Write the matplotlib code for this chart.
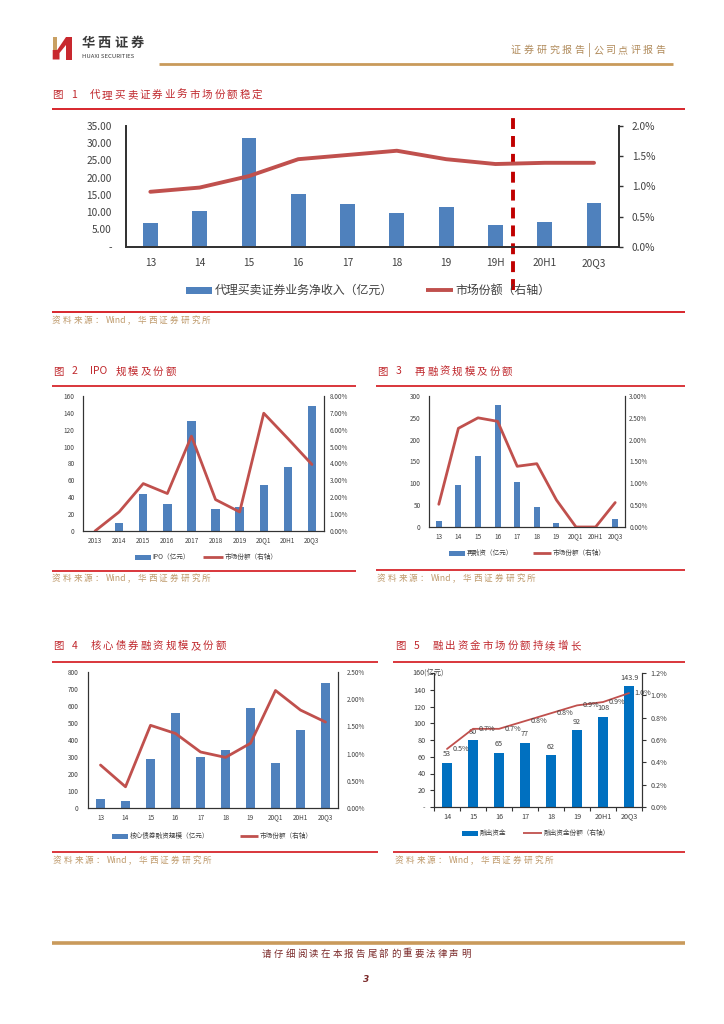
import matplotlib
matplotlib.use('Agg')
import matplotlib.pyplot as plt
from matplotlib.patches import Rectangle, Polygon
from matplotlib.lines import Line2D
import numpy as np

plt.rcParams['font.family'] = ['Noto Sans CJK SC', 'DejaVu Sans']

W, H = 724, 1024

# ---- data ----
cats1 = ['13', '14', '15', '16', '17', '18', '19', '19H', '20H1', '20Q3']
income1 = [6.96, 10.35, 31.4, 15.2, 12.4, 9.86, 11.5, 6.2, 7.16, 12.6]
share1 = [0.91, 0.98, 1.17, 1.45, 1.52, 1.59, 1.45, 1.37, 1.39, 1.39]

cats2 = ['2013', '2014', '2015', '2016', '2017', '2018', '2019', '20Q1', '20H1', '20Q3']
ipo2 = [0, 9, 44, 32.5, 130, 25.7, 28, 55, 75.6, 148]
share2 = [0.0, 1.13, 2.81, 2.22, 5.62, 1.86, 1.13, 6.98, 5.48, 3.94]

cats3 = ['13', '14', '15', '16', '17', '18', '19', '20Q1', '20H1', '20Q3']
refin3 = [14, 96, 163, 280, 103, 46, 10, 0, 0, 19]
share3 = [0.52, 2.26, 2.50, 2.42, 1.39, 1.45, 0.62, 0.0, 0.0, 0.56]

cats4 = ['13', '14', '15', '16', '17', '18', '19', '20Q1', '20H1', '20Q3']
bond4 = [55, 43, 290, 561, 302, 343, 590, 267, 461, 737]
share4 = [0.79, 0.39, 1.52, 1.37, 1.03, 0.93, 1.19, 2.16, 1.80, 1.58]

cats5 = ['14', '15', '16', '17', '18', '19', '20H1', '20Q3']
lend5 = [53, 80, 65, 77, 62, 92, 108, 143.9]
share5 = [0.52, 0.70, 0.70, 0.77, 0.84, 0.91, 0.94, 1.02]
barlab5 = ['53', '80', '65', '77', '62', '92', '108', '143.9']
linelab5 = ['0.5%', '0.7%', '0.7%', '0.8%', '0.8%', '0.9%', '0.9%', '1.0%']

BLUE = '#4F81BD'
BLUE5 = '#0070C0'
RED_LINE = '#C0504D'
RED = '#D7262C'
TITLE_RED = '#C0282D'
TAN = '#BF9A6C'
GOLD = '#C99A5B'

fig = plt.figure(figsize=(W / 100, H / 100), dpi=100)


def fx(x):
    return x / W


def fy(y):
    return 1 - y / H


def rect(l, t, r, b):
    return [fx(l), fy(b), (r - l) / W, (b - t) / H]


def hline(x0, x1, y, color, lw):
    fig.add_artist(Line2D([fx(x0), fx(x1)], [fy(y), fy(y)], transform=fig.transFigure,
                          color=color, lw=lw, solid_capstyle='butt'))


def spaced(x, y, s, size, color, pitch, weight='normal'):
    # CJK glyphs on a fixed pitch, runs of latin characters drawn as one piece
    cx = x
    run = ''
    for ch in s + '\0':
        if ch != '\0' and ord(ch) < 0x2000 and ch != ' ':
            run += ch
            continue
        if run:
            fig.text(fx(cx), fy(y), run, fontsize=size, color=color, va='center',
                     ha='left', fontweight=weight)
            cx += pitch * 0.5 * len(run)
            run = ''
        if ch == '\0':
            break
        if ch == ' ':
            cx += pitch * 0.5
            continue
        fig.text(fx(cx), fy(y), ch, fontsize=size, color=color, va='center',
                 ha='left', fontweight=weight)
        cx += pitch


def legend(xb, xl, y, lab_b, lab_l, color_b, lw_l, fs, pw, ph, lwid, gap):
    fig.add_artist(Rectangle((fx(xb), fy(y + ph / 2)), pw / W, ph / H,
                             transform=fig.transFigure, color=color_b, lw=0))
    fig.text(fx(xb + pw + gap), fy(y), lab_b, fontsize=fs, color='#404040', va='center')
    fig.add_artist(Line2D([fx(xl), fx(xl + lwid)], [fy(y), fy(y)], transform=fig.transFigure,
                          color=RED_LINE, lw=lw_l, solid_capstyle='butt'))
    fig.text(fx(xl + lwid + gap), fy(y), lab_l, fontsize=fs, color='#404040', va='center')


def combo(box, cats, bars, line, bcolor, bw, lw, ylim, yticks, ylabels,
          y2lim, y2ticks, y2labels, fs, padl, padr, padb, spw=0.8):
    ax = fig.add_axes(rect(*box))
    x = np.arange(len(cats))
    ax.bar(x, bars, bw, color=bcolor, zorder=2)
    ax.set_xlim(-0.5, len(cats) - 0.5)
    ax.set_ylim(*ylim)
    ax.set_yticks(yticks)
    ax.set_yticklabels(ylabels)
    ax.set_xticks(x)
    ax.set_xticklabels(cats)
    ax2 = ax.twinx()
    ax2.plot(x, line, color=RED_LINE, lw=lw, solid_capstyle='round', solid_joinstyle='round')
    ax2.set_ylim(*y2lim)
    ax2.set_yticks(y2ticks)
    ax2.set_yticklabels(y2labels)
    for a in (ax, ax2):
        a.spines['top'].set_visible(False)
        for s in ('left', 'right', 'bottom'):
            a.spines[s].set_color('#333333')
            a.spines[s].set_linewidth(spw)
        a.patch.set_visible(False)
    ax.tick_params(axis='y', length=0, pad=padl, labelsize=fs, labelcolor='#404040')
    ax.tick_params(axis='x', length=0, pad=padb, labelsize=fs, labelcolor='#404040')
    ax2.tick_params(axis='y', length=0, pad=padr, labelsize=fs, labelcolor='#404040')
    return ax, ax2


# ---- header ----
fig.add_artist(Rectangle((fx(52.7), fy(50)), 4.5 / W, 13 / H, transform=fig.transFigure,
                         color='#C9A063', lw=0))
fig.add_artist(Polygon([[fx(52.7), fy(59.5)], [fx(52.7), fy(50)], [fx(57.2), fy(50)],
                        [fx(66), fy(37)], [fx(66), fy(45)], [fx(59.5), fy(53)],
                        [fx(59.5), fy(59.5)]], closed=True, transform=fig.transFigure,
                       color='#C8282E', lw=0))
fig.add_artist(Rectangle((fx(66), fy(59.5)), 6 / W, 22.5 / H, transform=fig.transFigure,
                         color='#C8282E', lw=0))
spaced(81.5, 42.5, '华西证券', 9.5, '#3a3a3a', 16.3, weight='bold')
fig.text(fx(82), fy(56), 'HUAXI SECURITIES', fontsize=4.3, color='#3a3a3a', va='center')
spaced(511, 50, '证券研究报告', 7.2, '#B08A5A', 12.7)
fig.text(fx(588), fy(50), '|', fontsize=9, color='#B08A5A', va='center')
spaced(593, 50, '公司点评报告', 7.2, '#B08A5A', 12.4)
hline(159, 673, 64.3, GOLD, 2.0)

# ---- figure 1 ----
spaced(52, 95, '图 1  代理买卖证券业务市场份额稳定', 7.6, TITLE_RED, 12.5)
hline(52, 685, 109, RED, 1.4)
ax1, ax1b = combo((125.7, 126, 618.7, 246.7), cats1, income1, share1, BLUE, 0.3, 2.8,
                  (0, 35), np.arange(0, 36, 5),
                  ['-'] + ['%.2f' % v for v in np.arange(5, 36, 5)],
                  (0, 2.0), np.arange(0, 2.01, 0.5), ['%.1f%%' % v for v in np.arange(0, 2.01, 0.5)],
                  7.3, 10, 6.5, 8, spw=1.3)
ax1b.tick_params(axis='y', length=3, width=1, color='#333333')
ax1.axvline(7.36, ymin=-0.36, ymax=1.09, clip_on=False, color='#C00000', lw=2.8,
            linestyle=(0, (2.8, 1.8)), zorder=5)
legend(186, 425.7, 290, '代理买卖证券业务净收入（亿元）', '市场份额（右轴）', BLUE, 2.8,
       8.6, 26, 7, 27, 3)
hline(52, 685, 312, RED, 1.4)
spaced(52, 320.5, '资料来源：Wind，华西证券研究所', 6.2, TAN, 10.7)

# ---- figure 2 ----
spaced(52.7, 371.5, '图 2  IPO 规模及份额', 7.5, TITLE_RED, 12.5)
hline(52, 356, 386, RED, 1.3)
combo((83, 396, 324, 531), cats2, ipo2, share2, BLUE, 0.35, 2.0,
      (0, 160), np.arange(0, 161, 20), [str(v) for v in range(0, 161, 20)],
      (0, 8), np.arange(0, 8.01, 1), ['%.2f%%' % v for v in np.arange(0, 8.01, 1)],
      4.6, 6, 4, 4)
legend(135, 203, 557, 'IPO（亿元）', '市场份额（右轴）', BLUE, 2.0, 4.8, 16, 5, 20, 1.5)
hline(52, 356, 571, RED, 1.3)
spaced(52, 578.5, '资料来源：Wind，华西证券研究所', 6.2, TAN, 10.7)

# ---- figure 3 ----
spaced(377, 371.5, '图 3  再融资规模及份额', 7.5, TITLE_RED, 12.5)
hline(376, 685, 386, RED, 1.3)
combo((429, 396, 625, 527), cats3, refin3, share3, BLUE, 0.3, 2.0,
      (0, 300), np.arange(0, 301, 50), [str(v) for v in range(0, 301, 50)],
      (0, 3.0), np.arange(0, 3.01, 0.5), ['%.2f%%' % v for v in np.arange(0, 3.01, 0.5)],
      4.6, 6, 3, 4)
legend(449, 533, 553, '再融资（亿元）', '市场份额（右轴）', BLUE, 2.0, 4.8, 16, 5, 18, 1.5)
hline(376, 685, 570, RED, 1.3)
spaced(377, 578.5, '资料来源：Wind，华西证券研究所', 6.2, TAN, 10.7)

# ---- figure 4 ----
spaced(53, 646, '图 4  核心债券融资规模及份额', 7.5, TITLE_RED, 12.5)
hline(52, 378, 662, RED, 1.3)
combo((88, 672, 338, 808), cats4, bond4, share4, BLUE, 0.33, 2.0,
      (0, 800), np.arange(0, 801, 100), [str(v) for v in range(0, 801, 100)],
      (0, 2.5), np.arange(0, 2.51, 0.5), ['%.2f%%' % v for v in np.arange(0, 2.51, 0.5)],
      4.6, 7, 6, 4)
legend(112, 240, 836, '核心债券融资规模（亿元）', '市场份额（右轴）', BLUE, 2.0, 4.8, 16, 5, 18, 1.5)
hline(52, 378, 852, RED, 1.3)
spaced(53, 860.5, '资料来源：Wind，华西证券研究所', 6.2, TAN, 10.7)

# ---- figure 5 ----
spaced(395, 646, '图 5  融出资金市场份额持续增长', 7.5, TITLE_RED, 12.5)
hline(393, 685, 662, RED, 1.3)
ax5, ax5b = combo((434, 673, 642, 807), cats5, lend5, share5, BLUE5, 0.35, 1.3,
                  (0, 160), np.arange(0, 161, 20), ['-'] + [str(v) for v in range(20, 160, 20)] + [''],
                  (0, 1.2), np.arange(0, 1.21, 0.2), ['%.1f%%' % v for v in np.arange(0, 1.21, 0.2)],
                  5.2, 3, 3, 4)
ax5.tick_params(axis='y', length=3, width=0.8, color='#333333')
ax5b.tick_params(axis='y', length=3, width=0.8, color='#333333')
ax5.set_xticks(np.arange(-0.5, len(cats5)), minor=True)
ax5.tick_params(axis='x', which='minor', length=3, width=0.8, color='#333333')
ax5.annotate('160(亿元)', xy=(0, 160), xycoords=('axes fraction', 'data'), xytext=(-15.5, 0),
             textcoords='offset points', fontsize=5.2, color='#404040', va='center',
             ha='left', annotation_clip=False)
for i, (v, lab) in enumerate(zip(lend5, barlab5)):
    ax5.annotate(lab, xy=(i, v), xytext=(0, 6), textcoords='offset points', ha='center',
                 va='center', fontsize=5.2, color='#404040', annotation_clip=False)
for i, (v, lab) in enumerate(zip(share5, linelab5)):
    ax5b.annotate(lab, xy=(i, v), xytext=(10, 0), textcoords='offset points', ha='center',
                  va='center', fontsize=5.2, color='#404040', annotation_clip=False)
legend(462, 523, 833, '融出资金', '融出资金份额（右轴）', BLUE5, 1.3, 4.8, 16, 5, 19, 1.5)
hline(393, 685, 852, RED, 1.3)
spaced(395, 860.5, '资料来源：Wind，华西证券研究所', 6.2, TAN, 10.7)

# ---- footer ----
hline(52, 685, 943, GOLD, 2.6)
spaced(262, 954, '请仔细阅读在本报告尾部的重要法律声明', 6.8, '#7B2A2A', 11.7)
fig.text(fx(366), fy(980), '3', fontsize=6.5, color='#7B2A2A', va='center', ha='center',
         fontweight='bold', fontstyle='italic', family='DejaVu Sans')

fig.savefig('out.png', dpi=100)
